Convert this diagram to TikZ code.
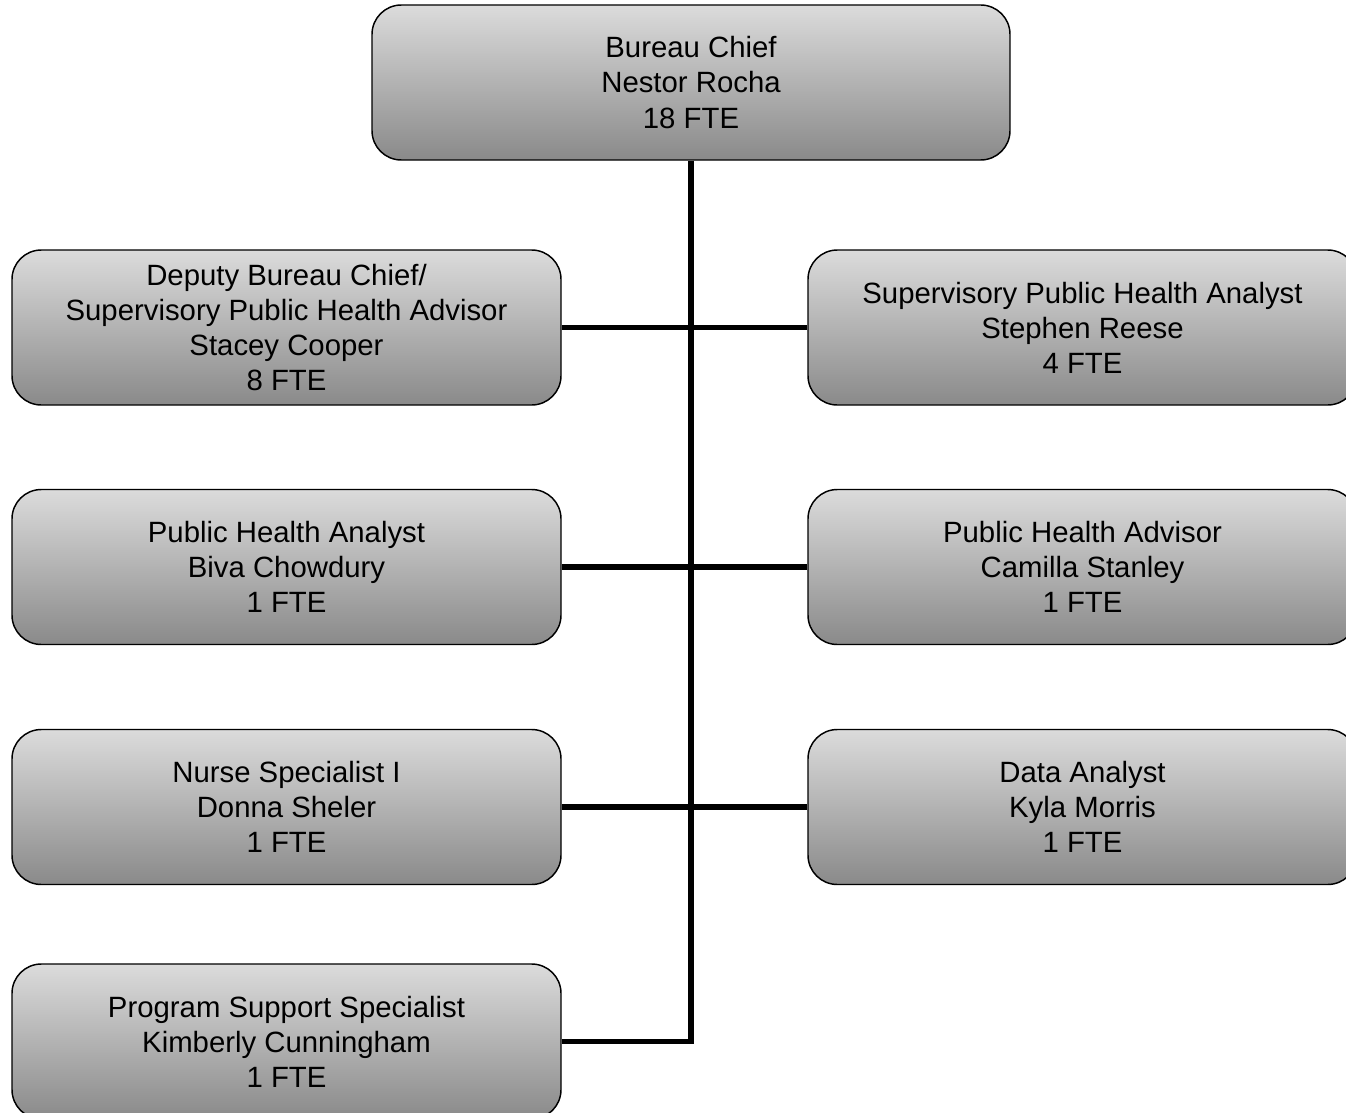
\documentclass[tikz,border=0pt]{standalone}
\usepackage{fontspec}
\setmainfont{Liberation Sans}
\definecolor{boxtop}{gray}{0.86}
\definecolor{boxbot}{gray}{0.54}

\begin{document}
\begin{tikzpicture}[x=0.75pt,y=-0.75pt,
  post/.style={draw=black,line width=1.1pt,rounded corners=22pt,
    top color=boxtop,bottom color=boxbot,align=center,inner sep=0pt,
    minimum width=411.75pt,minimum height=116.25pt,
    font=\fontsize{22}{26.3}\selectfont},
  link/.style={line width=4.1pt}]
  \useasboundingbox (0,0) rectangle (1346,1113);
  \clip (0,0) rectangle (1346,1113);
  \node[post,minimum width=478.5pt] (chief) at (691,82.5)
    {Bureau Chief\\Nestor Rocha\\18 FTE};
  % left column
  \node[post] (deputy) at (286.5,327.5)
    {Deputy Bureau Chief/\\Supervisory Public Health Advisor\\Stacey Cooper\\8 FTE};
  \node[post] (pha) at (286.5,567)
    {Public Health Analyst\\Biva Chowdury\\1 FTE};
  \node[post] (nurse) at (286.5,807)
    {Nurse Specialist I\\Donna Sheler\\1 FTE};
  \node[post] (pss) at (286.5,1041.5)
    {Program Support Specialist\\Kimberly Cunningham\\1 FTE};
  % right column
  \node[post] (spha) at (1082.5,327.5)
    {Supervisory Public Health Analyst\\Stephen Reese\\4 FTE};
  \node[post] (phadv) at (1082.5,567)
    {Public Health Advisor\\Camilla Stanley\\1 FTE};
  \node[post] (data) at (1082.5,807)
    {Data Analyst\\Kyla Morris\\1 FTE};
  % trunk and branches
  \draw[link] (chief.south) |- (pss.east);
  \foreach \l/\r in {deputy/spha,pha/phadv,nurse/data}
    \draw[link] (\l.east) -- (\r.west);
\end{tikzpicture}
\end{document}
